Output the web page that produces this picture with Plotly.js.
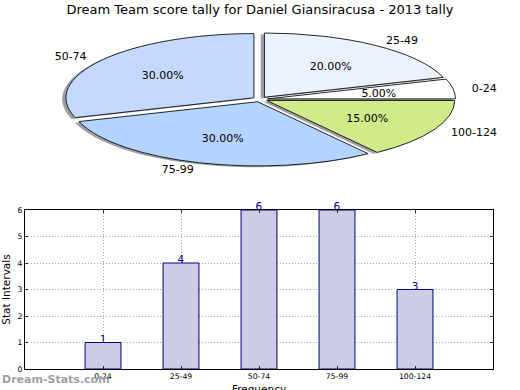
<!DOCTYPE html>
<html><head><meta charset="utf-8">
<script src="https://cdn.plot.ly/plotly-3.0.1.min.js"></script>
<style>html,body{margin:0;padding:0;background:#fff}#chart{width:520px;height:390px}</style>
</head><body><div id="chart"></div>
<script>
// ---- data ----
const categories = ['0-24', '25-49', '50-74', '75-99', '100-124'];
const counts = [1, 4, 6, 6, 3];
const sliceColors = ['#ffffff', '#eaf1ff', '#c5d8ff', '#b3d4ff', '#d0ec8a'];
const explode = [0.04, 0.04, 0.04, 0.04, 0.04];
const yTickVals = [0, 1, 2, 3, 4, 5, 6];
const titleText = 'Dream Team score tally for Daniel Giansiracusa - 2013 tally';
const xTitle = 'Frequency';
const yTitle = 'Stat Intervals';
const watermark = 'Dream-Stats.com';

// ---- styling / layout constants ----
const FONT = 'DejaVu Sans, sans-serif';
const ELLIPSE_RX = 188, ELLIPSE_RY = 64.2;   // drawn pie ellipse radii (px)
const PCT_DIST = 0.6, LABEL_DIST = 1.1, SHADOW_OFF = 0.02;
const pieDomain = {x: [0.0043, 1], y: [0.70, 0.868]};
const total = counts.reduce((a, b) => a + b, 0);
// first wedge starts at 3 o'clock and runs counter-clockwise (matplotlib style)
const pieRotation = 90 - 360 * counts[0] / total;

const pieBase = {
  type: 'pie', labels: categories, values: counts, sort: false,
  direction: 'counterclockwise', rotation: pieRotation, pull: explode,
  domain: pieDomain, hoverinfo: 'skip', showlegend: false
};

const traces = [
  Object.assign({}, pieBase, {
    name: 'shadow', textinfo: 'none',
    marker: {colors: categories.map(() => 'rgba(60,65,75,0.5)'), line: {width: 0}}
  }),
  Object.assign({}, pieBase, {
    name: 'main', texttemplate: '%{percent:.2%}', textposition: 'inside',
    insidetextorientation: 'horizontal',
    textfont: {family: FONT, size: 11, color: '#000'},
    marker: {colors: sliceColors, line: {color: '#111', width: 0.9}}
  }),
  Object.assign({}, pieBase, {
    name: 'labels', texttemplate: '%{label}', textposition: 'inside',
    insidetextorientation: 'horizontal',
    textfont: {family: FONT, size: 11, color: '#000'},
    marker: {colors: categories.map(() => 'rgba(0,0,0,0)'), line: {width: 0}}
  }),
  {
    type: 'bar', x: categories, y: counts, width: 0.46,
    marker: {color: '#ccccE6', line: {color: '#000080', width: 1}},
    text: counts.map(String), textposition: 'outside', cliponaxis: false,
    textfont: {family: FONT, size: 10.5, color: '#000080'},
    xaxis: 'x', yaxis: 'y', showlegend: false, hoverinfo: 'skip'
  }
];

const layout = {
  width: 520, height: 390,
  margin: {l: 25, r: 27, t: 25, b: 21},
  paper_bgcolor: '#fff', plot_bgcolor: '#fff',
  font: {family: FONT, color: '#000'},
  showlegend: false,
  title: {text: titleText, font: {family: FONT, size: 13, color: '#000'},
          x: 0.5, xanchor: 'center', y: 0.975, yanchor: 'middle'},
  xaxis: {
    domain: [0, 1], anchor: 'y', type: 'category', range: [-1, 5],
    showgrid: true, gridcolor: '#a8a8a8', griddash: '1px,2px', gridwidth: 1,
    showline: true, linecolor: '#000', linewidth: 1, mirror: 'ticks',
    ticks: 'inside', ticklen: 3, tickcolor: '#000', tickwidth: 0.8,
    tickfont: {family: FONT, size: 7.7, color: '#000'},
    title: {text: xTitle, font: {family: FONT, size: 10.5, color: '#000'}}
  },
  yaxis: {
    domain: [0, 0.4622], anchor: 'x', range: [0, 6], tickvals: yTickVals,
    showgrid: true, gridcolor: '#a8a8a8', griddash: '1px,2px', gridwidth: 1,
    zeroline: false, showline: true, linecolor: '#000', linewidth: 1, mirror: 'ticks',
    ticks: 'inside', ticklen: 3, tickcolor: '#000', tickwidth: 0.8,
    tickfont: {family: FONT, size: 7.7, color: '#000'},
    title: {text: yTitle, font: {family: FONT, size: 10.5, color: '#000'}, standoff: 4}
  },
  annotations: [{
    text: watermark, xref: 'paper', yref: 'paper', x: -25 / 468, y: -0.0305,
    xanchor: 'left', yanchor: 'middle', showarrow: false,
    font: {family: FONT, size: 11, color: '#a0a0a0', weight: 'bold'}
  }]
};

const gd = document.getElementById('chart');
Plotly.newPlot(gd, traces, layout, {staticPlot: true, displayModeBar: false}).then(() => {
  const groups = gd.querySelectorAll('.pielayer g.trace');
  groups.forEach((g, ti) => {
    const cd = gd.calcdata[ti];
    const cd0 = cd[0];
    const r = cd0.r, cx = cd0.cx, cy = cd0.cy;
    const sx = ELLIPSE_RX / r, sy = ELLIPSE_RY / r;
    let tf = `translate(${cx},${cy}) scale(${sx},${sy}) translate(${-cx},${-cy})`;
    if (ti === 0) tf += ` translate(${-SHADOW_OFF * r},${SHADOW_OFF * r})`;
    g.setAttribute('transform', tf);
    g.querySelectorAll('path.surface').forEach(p => p.style.vectorEffect = 'non-scaling-stroke');
    const slices = g.querySelectorAll('g.slice');
    slices.forEach((s, i) => {
      const pt = cd[i];
      const t = s.querySelector('text.slicetext');
      if (!t) return;
      t.style.display = '';
      t.setAttribute('transform', '');
      const bb = t.getBBox();
      const dist = ti === 1 ? PCT_DIST : LABEL_DIST;
      const px = pt.cxFinal + dist * pt.pxmid[0];
      const py = pt.cyFinal + dist * pt.pxmid[1];
      let ax = bb.x + bb.width / 2;
      if (ti === 2) ax = pt.pxmid[0] > 0 ? bb.x : bb.x + bb.width;
      const ay = bb.y + bb.height / 2;
      t.setAttribute('transform', `translate(${px},${py}) scale(${1 / sx},${1 / sy}) translate(${-ax},${-ay})`);
    });
  });
  // value labels sit right on the bar tops
  gd.querySelectorAll('.barlayer text.bartext').forEach(t => {
    const cur = t.getAttribute('transform') || '';
    t.setAttribute('transform', 'translate(0,5) ' + cur);
  });
  // x-axis title sits low, its lower half below the page edge as in the original
  gd.querySelectorAll('.g-xtitle text').forEach(t => {
    const cur = t.getAttribute('transform') || '';
    t.setAttribute('transform', 'translate(0,5) ' + cur);
  });
});
</script>
</body></html>
